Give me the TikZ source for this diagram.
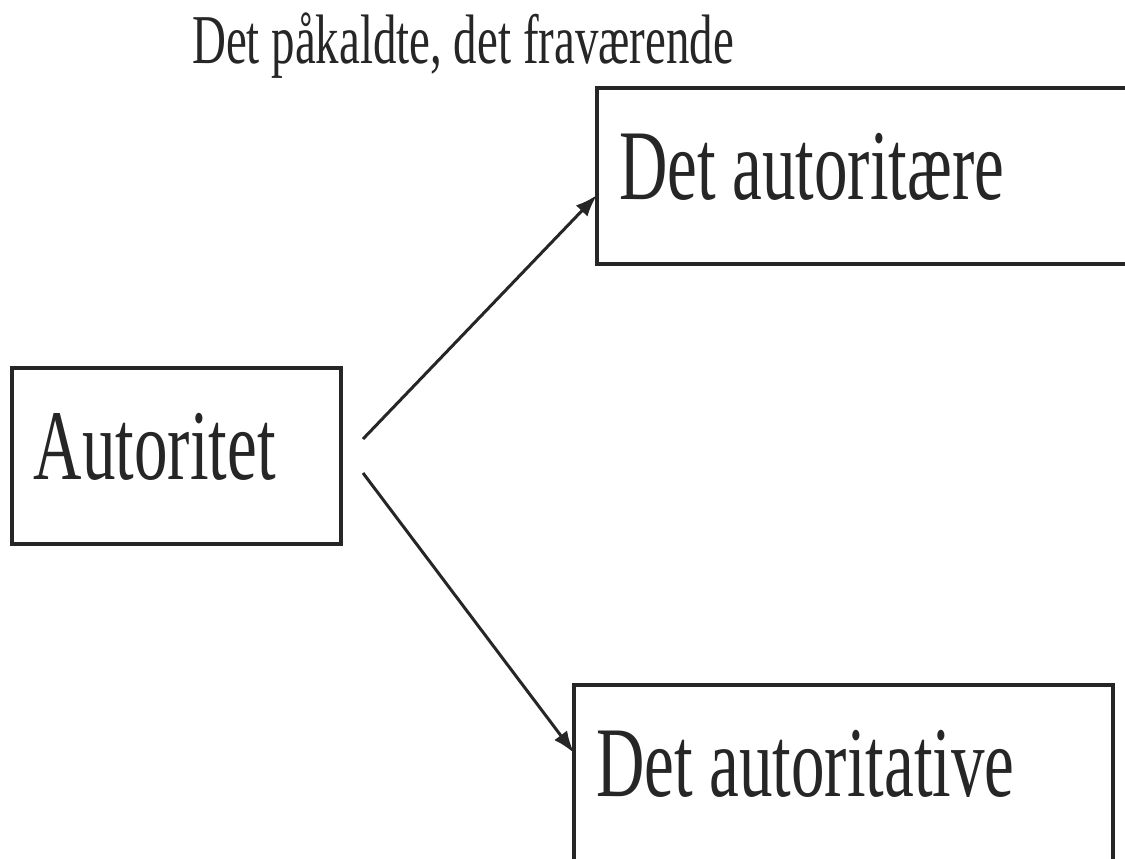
\documentclass[tikz,border=0pt]{standalone}
\usepackage{fontspec}
\setmainfont[FakeStretch=0.67]{Liberation Serif}
\usetikzlibrary{arrows.meta,positioning,calc}
\definecolor{ink}{HTML}{262626}

\begin{document}
\begin{tikzpicture}[
    x=1pt, y=-1pt,
    box/.style={
        rectangle,
        draw=ink,
        line width=3.5pt,
        outer sep=0pt,
        inner xsep=22pt,
        inner ysep=0pt,
        text height=111pt,
        text depth=65pt,
        align=flush left,
        anchor=north west,
        text=ink,
        font=\fontsize{100}{120}\selectfont
    },
    title/.style={
        anchor=base west,
        inner sep=0pt,
        text=ink,
        font=\fontsize{70}{84}\selectfont
    },
    line/.style={draw=ink, line width=3pt, -{Latex[length=22pt,width=16pt]}}
]

% Frame
\path [use as bounding box, fill=white] (0,0) rectangle (1125,859);
\clip (0,0) rectangle (1125,859);

% Title
\node [title] (title) at (192,64) {Det påkaldte, det fraværende};

% Main components
\node [box, text width=285pt] (autoritet) at (12,368) {Autoritet};
\node [box, text width=495pt] (autoritaere) at (597,88) {Det autoritære};
\node [box, text width=495pt] (autoritative) at (574,685) {Det autoritative};

% Main connections
\draw [line] ($(autoritet.east)+(22,-17)$) -- ($(autoritaere.west)+(0,19)$);
\draw [line] ($(autoritet.east)+(22,17)$) -- ($(autoritative.west)+(0,-20)$);

\end{tikzpicture}
\end{document}
